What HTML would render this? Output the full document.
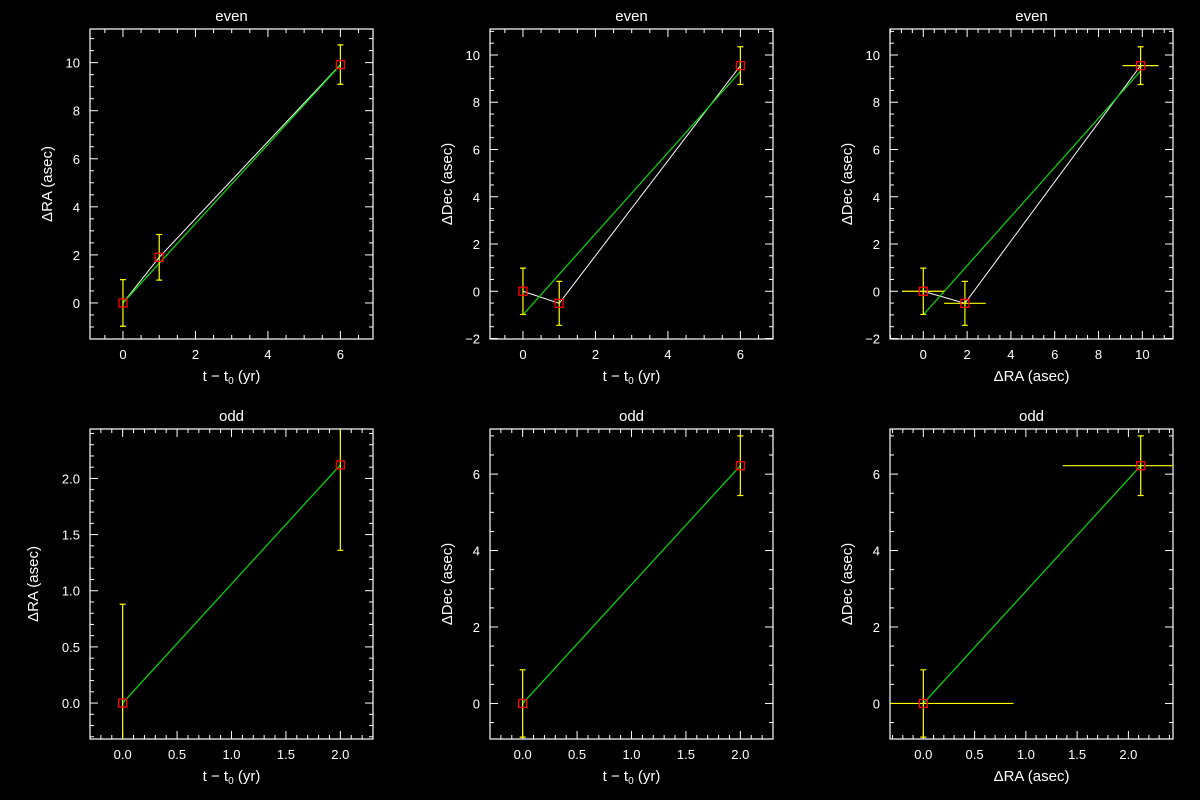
<!DOCTYPE html>
<html><head><meta charset="utf-8"><style>
html,body{margin:0;padding:0;background:#000;}
svg{display:block;font-family:"Liberation Sans",sans-serif;}
</style></head><body>
<svg id="chart" width="1200" height="800" viewBox="0 0 1200 800" xmlns="http://www.w3.org/2000/svg">
<rect width="1200" height="800" fill="#000"/>
</svg>
<script>
// Even epochs
const evenT = [0, 1, 6];
const evenRA = [0, 1.9, 9.92];
const evenRAErr = [0.97, 0.95, 0.82];
const evenDec = [0, -0.51, 9.55];
const evenDecErr = [0.98, 0.93, 0.8];
const evenRAFit = [0, 9.9];
const evenDecFit = [-1.0, 9.3];
const evenFitT = [0, 6];
// Odd epochs
const oddT = [0, 2];
const oddRA = [0, 2.12];
const oddRAErr = [0.88, 0.76];
const oddDec = [0, 6.22];
const oddDecErr = [0.88, 0.78];
const oddRAFit = [0, 2.12];
const oddDecFit = [0, 6.22];
const oddFitT = [0, 2];
// tick labels
const ticksEvenT = [0, 2, 4, 6];
const ticksEvenRA = [0, 2, 4, 6, 8, 10];
const ticksEvenDec = [-2, 0, 2, 4, 6, 8, 10];
const ticksEvenRAx = [0, 2, 4, 6, 8, 10];
const ticksOdd = [0.0, 0.5, 1.0, 1.5, 2.0];
const ticksOddDec = [0, 2, 4, 6];

const svg = document.getElementById('chart');
const NS = 'http://www.w3.org/2000/svg';
function mk(tag, attrs, parent){const e=document.createElementNS(NS,tag);for(const k in attrs)e.setAttribute(k,attrs[k]);parent.appendChild(e);return e;}

function panel(p){
  const g = mk('g',{},svg);
  
  
  const L=p.box[0],T=p.box[1],R=p.box[2],B=p.box[3];
  const sx=v=>L+(v-p.xr[0])/(p.xr[1]-p.xr[0])*(R-L);
  const sy=v=>B-(v-p.yr[0])/(p.yr[1]-p.yr[0])*(B-T);
  const cp = 'clip-'+p.name;
  const defs = mk('defs',{},g);
  const c = mk('clipPath',{id:cp},defs);
  mk('rect',{x:L,y:T,width:R-L,height:B-T},c);
  // title
  const t = mk('text',{x:(L+R)/2,y:T-8,fill:'#fff','font-size':15,'text-anchor':'middle'},g);
  
  
  t.textContent=p.title;
  // frame
  const f = mk('rect',{x:L,y:T,width:R-L,height:B-T,fill:'none',stroke:'#fff','stroke-width':1.2},g);
  
  
  // minor ticks
  for(let v=Math.ceil(p.xr[0]/p.xm)*p.xm; v<=p.xr[1]+1e-9; v+=p.xm){
    const x=sx(v); const major=Math.abs(v/p.xM-Math.round(v/p.xM))<1e-6; const len=major?8:4;
    mk('line',{x1:x,y1:B,x2:x,y2:B-len,stroke:'#fff'},g);
    mk('line',{x1:x,y1:T,x2:x,y2:T+len,stroke:'#fff'},g);
  }
  for(let v=Math.ceil(p.yr[0]/p.ym)*p.ym; v<=p.yr[1]+1e-9; v+=p.ym){
    const y=sy(v); const major=Math.abs(v/p.yM-Math.round(v/p.yM))<1e-6; const len=major?8:4;
    mk('line',{x1:L,y1:y,x2:L+len,y2:y,stroke:'#fff'},g);
    mk('line',{x1:R,y1:y,x2:R-len,y2:y,stroke:'#fff'},g);
  }
  p.xt.forEach(v=>{
    const e=mk('text',{x:sx(v),y:B+20,fill:'#fff','font-size':13,'text-anchor':'middle'},g);
    
    
    e.textContent=p.xdec?v.toFixed(1):String(v);
  });
  p.yt.forEach(v=>{
    const e=mk('text',{x:L-10,y:sy(v)+5,fill:'#fff','font-size':13,'text-anchor':'end'},g);
    
    
    e.textContent=p.ydec?v.toFixed(1):(v<0?'\u2212'+(-v):String(v));
  });
  const xl=mk('text',{x:(L+R)/2,y:B+42,fill:'#fff','font-size':15,'text-anchor':'middle'},g);
  
  
  if(p.xlab==='t'){ xl.innerHTML='t \u2212 t<tspan font-size="10" dy="3">0</tspan><tspan dy="-3"> (yr)</tspan>'; } else xl.textContent=p.xlab;
  const yx=L-(p.ydec?52:38), yy=(T+B)/2;
  const yl=mk('text',{x:yx,y:yy,fill:'#fff','font-size':15,'text-anchor':'middle',transform:`rotate(-90 ${yx} ${yy})`},g);
  
  
  yl.textContent=p.ylab;
  const d = mk('g',{'clip-path':`url(#${cp})`},g);
  // white connecting line
  if(p.connect){
    const pl=mk('polyline',{points:p.x.map((v,i)=>sx(v)+','+sy(p.y[i])).join(' '),fill:'none',stroke:'#fff','stroke-width':1},d);
    
    
  }
  // fit line
  const fl=mk('line',{x1:sx(p.fx[0]),y1:sy(p.fy[0]),x2:sx(p.fx[1]),y2:sy(p.fy[1]),stroke:'#00e000','stroke-width':1.2},d);
  
  
  // errors
  p.x.forEach((v,i)=>{
    const x=sx(v),y=sy(p.y[i]);
    const y1=sy(p.y[i]+p.ye[i]),y2=sy(p.y[i]-p.ye[i]);
    const eb=mk('path',{d:`M${x},${y1}V${y2}M${x-3},${y1}H${x+3}M${x-3},${y2}H${x+3}`,stroke:'#ffff00','stroke-width':1.2,fill:'none'},d);
    
    
    if(p.xe){
      const xb=mk('line',{x1:sx(v-p.xe[i]),y1:y,x2:sx(v+p.xe[i]),y2:y,stroke:'#ffff00','stroke-width':1.2},d);
      
      
    }
    const m=mk('rect',{x:x-4,y:y-4,width:8,height:8,fill:'none',stroke:'#ff0000','stroke-width':1.3},d);
    
    
  });
}
panel({name:'even-ra-vs-time',title:'even',box:[90,29,373,339],xr:[-0.91,6.9],yr:[-1.5,11.4],xm:0.5,xM:2,ym:0.5,yM:2,xt:ticksEvenT,yt:ticksEvenRA,xlab:'t',ylab:'\u0394RA (asec)',x:evenT,y:evenRA,ye:evenRAErr,fx:evenFitT,fy:evenRAFit,connect:true});
panel({name:'even-dec-vs-time',title:'even',box:[490,29,773,339],xr:[-0.91,6.9],yr:[-2.02,11.1],xm:0.5,xM:2,ym:0.5,yM:2,xt:ticksEvenT,yt:ticksEvenDec,xlab:'t',ylab:'\u0394Dec (asec)',x:evenT,y:evenDec,ye:evenDecErr,fx:evenFitT,fy:evenDecFit,connect:true});
panel({name:'even-dec-vs-ra',title:'even',box:[890,29,1173,339],xr:[-1.52,11.4],yr:[-2.02,11.1],xm:0.5,xM:2,ym:0.5,yM:2,xt:ticksEvenRAx,yt:ticksEvenDec,xlab:'\u0394RA (asec)',ylab:'\u0394Dec (asec)',x:evenRA,y:evenDec,ye:evenDecErr,xe:evenRAErr,fx:evenRAFit,fy:evenDecFit,connect:true});
panel({name:'odd-ra-vs-time',title:'odd',box:[90,429,373,739],xr:[-0.3,2.3],yr:[-0.32,2.44],xm:0.1,xM:0.5,ym:0.1,yM:0.5,xt:ticksOdd,yt:ticksOdd,xdec:true,ydec:true,xlab:'t',ylab:'\u0394RA (asec)',x:oddT,y:oddRA,ye:oddRAErr,fx:oddFitT,fy:oddRAFit});
panel({name:'odd-dec-vs-time',title:'odd',box:[490,429,773,739],xr:[-0.3,2.3],yr:[-0.93,7.18],xm:0.1,xM:0.5,ym:0.5,yM:2,xt:ticksOdd,yt:ticksOddDec,xdec:true,xlab:'t',ylab:'\u0394Dec (asec)',x:oddT,y:oddDec,ye:oddDecErr,fx:oddFitT,fy:oddDecFit});
panel({name:'odd-dec-vs-ra',title:'odd',box:[890,429,1173,739],xr:[-0.325,2.435],yr:[-0.93,7.18],xm:0.1,xM:0.5,ym:0.5,yM:2,xt:ticksOdd,yt:ticksOddDec,xdec:true,xlab:'\u0394RA (asec)',ylab:'\u0394Dec (asec)',x:oddRA,y:oddDec,ye:oddDecErr,xe:oddRAErr,fx:oddRAFit,fy:oddDecFit});
</script>
</body></html>
